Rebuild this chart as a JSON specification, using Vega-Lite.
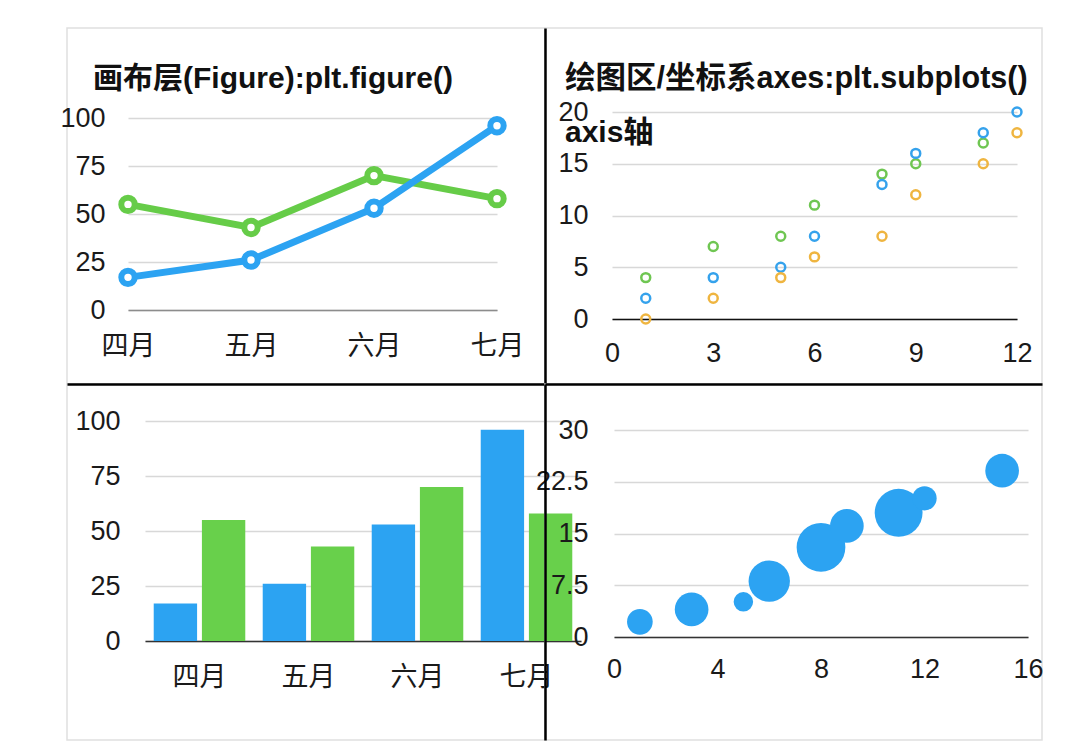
{
  "$schema": "https://vega.github.io/schema/vega-lite/v6.json",
  "padding": {"left": 59, "top": 24, "right": 0, "bottom": 0},
  "background": "white",
  "columns": 2,
  "spacing": 0,
  "bounds": "flush",
  "resolve": {"scale": {"color": "independent", "stroke": "independent", "size": "independent"}},
  "datasets": {
    "months": [
      {"month": "四月", "series": "B", "value": 55},
      {"month": "五月", "series": "B", "value": 43},
      {"month": "六月", "series": "B", "value": 70},
      {"month": "七月", "series": "B", "value": 58},
      {"month": "四月", "series": "A", "value": 17},
      {"month": "五月", "series": "A", "value": 26},
      {"month": "六月", "series": "A", "value": 53},
      {"month": "七月", "series": "A", "value": 96}
    ],
    "scatter": [
      {"x": 1, "group": "G", "y": 4}, {"x": 1, "group": "H", "y": 2}, {"x": 1, "group": "K", "y": 0},
      {"x": 3, "group": "G", "y": 7}, {"x": 3, "group": "H", "y": 4}, {"x": 3, "group": "K", "y": 2},
      {"x": 5, "group": "G", "y": 8}, {"x": 5, "group": "H", "y": 5}, {"x": 5, "group": "K", "y": 4},
      {"x": 6, "group": "G", "y": 11}, {"x": 6, "group": "H", "y": 8}, {"x": 6, "group": "K", "y": 6},
      {"x": 8, "group": "G", "y": 14}, {"x": 8, "group": "H", "y": 13}, {"x": 8, "group": "K", "y": 8},
      {"x": 9, "group": "G", "y": 15}, {"x": 9, "group": "H", "y": 16}, {"x": 9, "group": "K", "y": 12},
      {"x": 11, "group": "G", "y": 17}, {"x": 11, "group": "H", "y": 18}, {"x": 11, "group": "K", "y": 15},
      {"x": 12, "group": "H", "y": 20}, {"x": 12, "group": "K", "y": 18}
    ],
    "bubbles": [
      {"x": 1, "y": 2.2, "z": 210},
      {"x": 3, "y": 4.0, "z": 361},
      {"x": 5, "y": 5.1, "z": 121},
      {"x": 6, "y": 8.1, "z": 545},
      {"x": 8, "y": 13.0, "z": 756},
      {"x": 9, "y": 16.1, "z": 361},
      {"x": 11, "y": 18.0, "z": 729},
      {"x": 12, "y": 20.1, "z": 188},
      {"x": 15, "y": 24.1, "z": 361}
    ]
  },
  "concat": [
    {
      "width": 478,
      "height": 356,
      "data": {"name": "months"},
      "title": {
        "text": "画布层(Figure):plt.figure()",
        "anchor": "start",
        "frame": "group",
        "dx": 26,
        "offset": -66,
        "fontSize": 30,
        "fontWeight": "bold",
        "color": "#111111"
      },
      "encoding": {
        "x": {
          "field": "month", "type": "ordinal", "sort": ["四月", "五月", "六月", "七月"],
          "scale": {"type": "point", "range": [61, 430], "padding": 0},
          "axis": {"orient": "bottom", "offset": -74, "title": null, "labelAngle": 0, "ticks": false, "domainColor": "#8c8c8c", "domainWidth": 1.5, "labelPadding": 23, "grid": false}
        },
        "y": {
          "field": "value", "type": "quantitative",
          "scale": {"domain": [0, 100], "range": [282, 90]},
          "axis": {"orient": "left", "offset": -61, "title": null, "values": [0, 25, 50, 75, 100], "domain": false, "ticks": false, "labelPadding": 23, "grid": true}
        }
      },
      "layer": [
        {
          "mark": {"type": "line", "strokeWidth": 7},
          "encoding": {
            "color": {"field": "series", "type": "nominal", "scale": {"domain": ["A", "B"], "range": ["#2ca3f2", "#66cc48"]}, "legend": null}
          }
        },
        {
          "mark": {"type": "circle", "fill": "white", "opacity": 1, "fillOpacity": 1, "size": 180, "strokeWidth": 6},
          "encoding": {
            "stroke": {"field": "series", "type": "nominal", "scale": {"domain": ["A", "B"], "range": ["#2ca3f2", "#66cc48"]}, "legend": null}
          }
        }
      ]
    },
    {
      "width": 497,
      "height": 356,
      "data": {"name": "scatter"},
      "title": {
        "text": "绘图区/坐标系axes:plt.subplots()",
        "subtitle": "axis轴",
        "anchor": "start",
        "frame": "group",
        "dx": 20,
        "offset": -123,
        "fontSize": 30.5,
        "fontWeight": "bold",
        "color": "#111111",
        "subtitleFontSize": 30,
        "subtitleFontWeight": "bold",
        "subtitleColor": "#111111",
        "subtitleFont": "Liberation Sans, Noto Sans CJK SC",
        "subtitlePadding": 24
      },
      "layer": [
        {
          "mark": {"type": "point", "filled": false, "size": 80, "strokeWidth": 2.5, "opacity": 1},
          "encoding": {
            "x": {
              "field": "x", "type": "quantitative",
              "scale": {"domain": [0, 12], "range": [67, 472]},
              "axis": {"orient": "bottom", "offset": -65, "title": null, "values": [0, 3, 6, 9, 12], "ticks": false, "domainColor": "#111111", "domainWidth": 1.5, "labelPadding": 21, "grid": false}
            },
            "y": {
              "field": "y", "type": "quantitative",
              "scale": {"domain": [0, 20], "range": [291, 84]},
              "axis": {"orient": "left", "offset": -67, "title": null, "values": [0, 5, 10, 15, 20], "domain": false, "ticks": false, "labelPadding": 24, "grid": true}
            },
            "stroke": {"field": "group", "type": "nominal", "scale": {"domain": ["G", "H", "K"], "range": ["#6fc652", "#35a2ec", "#efb540"]}, "legend": null}
          }
        },
        {
          "mark": {"type": "point", "opacity": 0},
          "encoding": {
            "y": {
              "field": "y", "type": "quantitative",
              "axis": {"orient": "left", "offset": 0, "title": null, "labels": false, "ticks": false, "grid": false, "domain": true, "domainColor": "#000000", "domainWidth": 2.5}
            }
          }
        }
      ],
      "resolve": {"scale": {"y": "independent"}, "axis": {"y": "independent"}}
    },
    {
      "width": 478,
      "height": 356,
      "data": {"name": "months"},
      "layer": [
        {
          "mark": {"type": "bar"},
          "encoding": {
            "x": {
              "field": "month", "type": "ordinal", "sort": ["四月", "五月", "六月", "七月"],
              "scale": {"type": "band", "range": [78, 514], "paddingInner": 0.16, "paddingOuter": 0.08},
              "axis": {"orient": "bottom", "offset": -99, "title": null, "labelAngle": 0, "ticks": false, "domainColor": "#333333", "domainWidth": 1.5, "labelPadding": 23, "grid": false}
            },
            "xOffset": {"field": "series", "type": "nominal", "sort": ["A", "B"], "scale": {"paddingInner": 0.1, "paddingOuter": 0}},
            "y": {
              "field": "value", "type": "quantitative",
              "scale": {"domain": [0, 100], "range": [257, 37]},
              "axis": {"orient": "left", "offset": -78, "title": null, "values": [0, 25, 50, 75, 100], "domain": false, "ticks": false, "labelPadding": 25, "grid": true}
            },
            "color": {"field": "series", "type": "nominal", "scale": {"domain": ["A", "B"], "range": ["#2ca3f2", "#68d04b"]}, "legend": null}
          }
        },
        {
          "mark": {"type": "point", "opacity": 0},
          "encoding": {
            "x": {
              "field": "month", "type": "ordinal",
              "axis": {"orient": "top", "offset": 0, "title": null, "labels": false, "ticks": false, "grid": false, "domain": true, "domainColor": "#000000", "domainWidth": 2.5}
            }
          }
        }
      ],
      "resolve": {"scale": {"x": "independent"}, "axis": {"x": "independent"}}
    },
    {
      "width": 497,
      "height": 356,
      "data": {"name": "bubbles"},
      "layer": [
        {
          "mark": {"type": "circle", "opacity": 1, "color": "#2ca3f2"},
          "encoding": {
            "x": {
              "field": "x", "type": "quantitative",
              "scale": {"domain": [0, 16], "range": [69, 483]},
              "axis": {"orient": "bottom", "offset": -103, "title": null, "values": [0, 4, 8, 12, 16], "ticks": false, "domainColor": "#333333", "domainWidth": 1.5, "labelPadding": 19, "grid": false}
            },
            "y": {
              "field": "y", "type": "quantitative",
              "scale": {"domain": [0, 30], "range": [253, 46]},
              "axis": {"orient": "left", "offset": -69, "title": null, "values": [0, 7.5, 15, 22.5, 30], "format": ".3~g", "domain": false, "ticks": false, "labelPadding": 26, "grid": true}
            },
            "size": {"field": "z", "type": "quantitative", "scale": {"domain": [0, 1000], "range": [0, 3142]}, "legend": null}
          }
        },
        {
          "mark": {"type": "point", "opacity": 0},
          "encoding": {
            "x": {
              "field": "x", "type": "quantitative",
              "axis": {"orient": "top", "offset": 0, "title": null, "labels": false, "ticks": false, "grid": false, "domain": true, "domainColor": "#000000", "domainWidth": 2.5}
            },
            "y": {
              "field": "y", "type": "quantitative",
              "axis": {"orient": "left", "offset": 0, "title": null, "labels": false, "ticks": false, "grid": false, "domain": true, "domainColor": "#000000", "domainWidth": 2.5}
            }
          }
        }
      ],
      "resolve": {"scale": {"x": "independent", "y": "independent"}, "axis": {"x": "independent", "y": "independent"}}
    }
  ],
  "config": {
    "view": {"stroke": "#e0e0e0", "strokeWidth": 1.5},
    "font": "Liberation Sans, Noto Sans CJK SC",
    "title": {"font": "Liberation Sans, Noto Sans CJK SC"},
    "axis": {
      "labelFont": "Liberation Sans, Noto Sans CJK SC",
      "labelFontSize": 27,
      "labelColor": "#1a1a1a",
      "gridColor": "#d8d8d8",
      "gridWidth": 1.5,
      "labelOverlap": false,
      "labelFlush": false
    }
  }
}
